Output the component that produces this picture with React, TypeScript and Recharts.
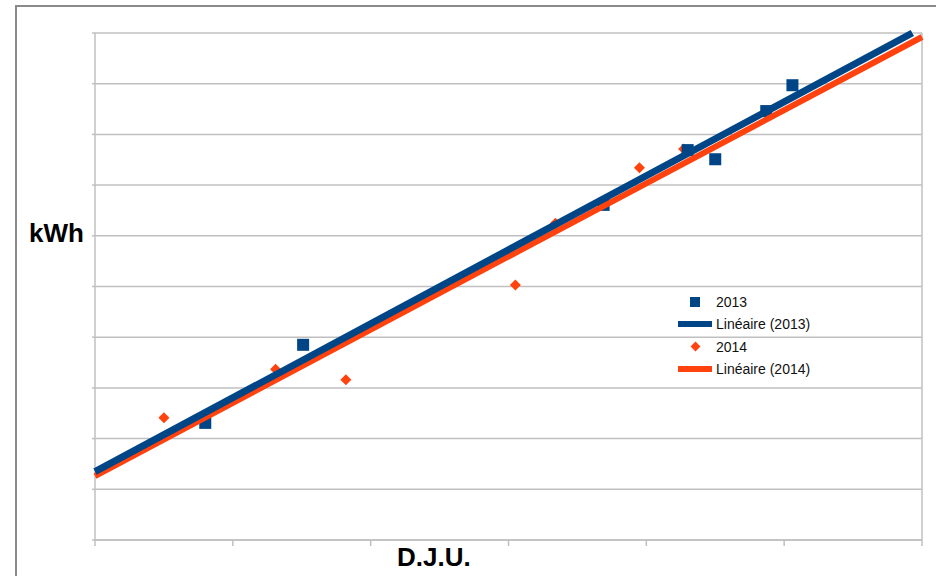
import React from "react";
import {
  ScatterChart,
  Scatter,
  XAxis,
  YAxis,
  CartesianGrid,
  ReferenceLine,
} from "recharts";

const BLUE = "#004586";
const ORANGE = "#ff420e";
const GRID = "#c0c0c0";

const xTicks = [0, 100, 200, 300, 400, 500, 600];
const yTicks = [0, 1000, 2000, 3000, 4000, 5000, 6000, 7000, 8000, 9000, 10000];

const dju2013 = [80, 151, 369, 430, 450, 487, 506];
const kwh2013 = [2310, 3850, 6610, 7690, 7510, 8460, 8970];

const dju2014 = [50, 131, 182, 305, 334, 395, 427];
const kwh2014 = [2410, 3370, 3160, 5030, 6250, 7340, 7710];

const trendDju2013 = [0, 593];
const trendKwh2013 = [1347, 10000];
const trendDju2014 = [0, 600];
const trendKwh2014 = [1262, 9921];

const legendLabels = ["2013", "Linéaire (2013)", "2014", "Linéaire (2014)"];

const toPoints = (xs: number[], ys: number[]) =>
  xs.map((x, i) => ({ x, y: ys[i] }));

const Square = (props: any) => (
  <rect x={props.cx - 6} y={props.cy - 6} width={12} height={12} fill={BLUE} />
);

const Diamond = (props: any) => {
  const { cx, cy } = props;
  const r = 5.5;
  return (
    <polygon
      points={`${cx},${cy - r} ${cx + r},${cy} ${cx},${cy + r} ${cx - r},${cy}`}
      fill={ORANGE}
    />
  );
};

const NoPoint = () => <g />;
const NoTick = () => <g />;

function LegendBox() {
  const markers = [
    <div style={{ width: 10, height: 10, background: BLUE, margin: "0 auto" }} />,
    <div style={{ width: 34, height: 6, background: BLUE }} />,
    <div
      style={{
        width: 7,
        height: 7,
        background: ORANGE,
        transform: "rotate(45deg)",
        margin: "0 auto",
      }}
    />,
    <div style={{ width: 34, height: 6, background: ORANGE }} />,
  ];
  return (
    <div
      style={{
        position: "absolute",
        left: 678,
        top: 291,
        fontFamily: "'Liberation Sans', Arial, sans-serif",
        fontSize: 14,
        color: "#111",
      }}
    >
      {legendLabels.map((label, i) => (
        <div key={label} style={{ display: "flex", alignItems: "center", height: 22.3 }}>
          <div style={{ width: 34, display: "flex", justifyContent: "center", marginRight: 4 }}>
            {markers[i]}
          </div>
          <span>{label}</span>
        </div>
      ))}
    </div>
  );
}

export default function App() {
  return (
    <div
      style={{
        position: "absolute",
        left: 0,
        top: 0,
        width: 936,
        height: 576,
        background: "#fff",
        overflow: "hidden",
      }}
    >
      <div
        style={{
          position: "absolute",
          left: 15,
          top: 5,
          width: 940,
          height: 600,
          borderLeft: "2px solid #8a8a8a",
          borderTop: "2px solid #8a8a8a",
        }}
      />
      <ScatterChart
        width={936}
        height={576}
        margin={{ top: 33, right: 14, bottom: 35, left: 94 }}
        style={{ position: "absolute", left: 0, top: 0 }}
      >
        <CartesianGrid vertical={false} stroke={GRID} strokeWidth={1.5} />
        <XAxis
          type="number"
          dataKey="x"
          domain={[0, 600]}
          ticks={xTicks}
          tick={NoTick}
          tickSize={6}
          height={1}
          stroke={GRID}
          strokeWidth={1.5}
        />
        <YAxis
          type="number"
          dataKey="y"
          domain={[0, 10000]}
          ticks={yTicks}
          tick={NoTick}
          tickSize={3}
          width={1}
          stroke={GRID}
          strokeWidth={1.5}
        />
        <ReferenceLine x={600} stroke={GRID} strokeWidth={1.5} />
        <Scatter
          name="2014"
          data={toPoints(dju2014, kwh2014)}
          shape={<Diamond />}
          isAnimationActive={false}
        />
        <Scatter
          name="2013"
          data={toPoints(dju2013, kwh2013)}
          shape={<Square />}
          isAnimationActive={false}
        />
        <Scatter
          name="Linéaire (2014)"
          data={toPoints(trendDju2014, trendKwh2014)}
          line={{ stroke: ORANGE, strokeWidth: 6 }}
          shape={<NoPoint />}
          isAnimationActive={false}
        />
        <Scatter
          name="Linéaire (2013)"
          data={toPoints(trendDju2013, trendKwh2013)}
          line={{ stroke: BLUE, strokeWidth: 7 }}
          shape={<NoPoint />}
          isAnimationActive={false}
        />
      </ScatterChart>
      <LegendBox />
      <div
        style={{
          position: "absolute",
          left: 29,
          top: 218,
          fontFamily: "'Liberation Sans', Arial, sans-serif",
          fontWeight: "bold",
          fontSize: 26,
          color: "#000",
        }}
      >
        kWh
      </div>
      <div
        style={{
          position: "absolute",
          left: 397,
          top: 542,
          fontFamily: "'Liberation Sans', Arial, sans-serif",
          fontWeight: "bold",
          fontSize: 26,
          color: "#000",
        }}
      >
        D.J.U.
      </div>
    </div>
  );
}
